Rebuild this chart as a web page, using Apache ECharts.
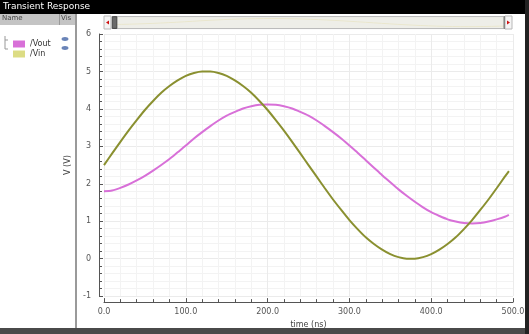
<!DOCTYPE html>
<html><head><meta charset="utf-8">
<script src="https://cdn.jsdelivr.net/npm/echarts@6/dist/echarts.min.js"></script>
<style>html,body{margin:0;padding:0;background:#fff}#c{width:529px;height:334px}</style>
</head><body><div id="c"></div>
<script>
var timeNs = [0,10,20,30,40,50,60,70,80,90,100,110,120,130,140,150,160,170,180,190,200,210,220,230,240,250,260,270,280,290,300,310,320,330,340,350,360,370,380,390,400,410,420,430,440,450,460,470,480,490,495];
var vout = [1.80,1.82,1.89,1.98,2.09,2.21,2.35,2.50,2.66,2.84,3.02,3.21,3.38,3.54,3.69,3.82,3.92,4.01,4.07,4.11,4.12,4.11,4.07,4.01,3.92,3.82,3.69,3.54,3.38,3.21,3.02,2.83,2.63,2.43,2.23,2.04,1.85,1.68,1.52,1.37,1.24,1.14,1.05,0.99,0.95,0.94,0.95,0.99,1.05,1.12,1.17];
var vin  = [2.50,2.81,3.12,3.42,3.70,3.97,4.21,4.43,4.61,4.76,4.88,4.96,5.00,5.00,4.96,4.88,4.76,4.61,4.43,4.21,3.97,3.70,3.42,3.12,2.81,2.50,2.19,1.88,1.58,1.30,1.03,0.79,0.57,0.39,0.24,0.12,0.04,0.00,0.00,0.04,0.12,0.24,0.39,0.57,0.79,1.03,1.30,1.58,1.88,2.19,2.34];
var seriesNames = ['/Vout','/Vin'];
var xTicks = [0,100,200,300,400,500];
var yTicks = [-1,0,1,2,3,4,5,6];

function pairs(v){ return timeNs.map(function(t,i){ return [t, v[i]]; }); }
var chart = echarts.init(document.getElementById('c'), null, {renderer:'canvas'});
var lab = {color:'#555', fontSize:8, fontFamily:'DejaVu Sans'};
chart.setOption({
  animation:false,
  backgroundColor:'#fff',
  grid:{left:104, right:16, top:34, bottom:33},
  legend:{
    orient:'vertical', left:8, top:35, itemWidth:12, itemHeight:7, itemGap:2, icon:'rect',
    textStyle:{fontSize:8, color:'#333', fontFamily:'DejaVu Sans'},
    data:[{name:seriesNames[0], itemStyle:{color:'#d870d8'}},{name:seriesNames[1], itemStyle:{color:'#dcdc84'}}],
    selectedMode:false
  },
  dataZoom:[{
    type:'slider', xAxisIndex:0, top:16, height:13, left:111, right:24,
    showDetail:false, brushSelect:false, showDataShadow:true,
    backgroundColor:'#ececec', borderColor:'#b8b8b8', fillerColor:'rgba(240,240,230,0.6)',
    dataBackground:{lineStyle:{color:'#e6b8e6', width:1}, areaStyle:{opacity:0}},
    selectedDataBackground:{lineStyle:{color:'#e0d8a8', width:1}, areaStyle:{opacity:0}},
    handleIcon:'path://M0,0 L4,0 L4,10 L0,10 Z', handleSize:'90%',
    handleStyle:{color:'#6a6a6a', borderColor:'#444'},
    moveHandleSize:0, zoomOnMouseWheel:false
  }],
  xAxis:{
    type:'value', min:0, max:500, interval:100, offset:6,
    name:'time (ns)', nameLocation:'middle', nameGap:18,
    nameTextStyle:{color:'#444', fontSize:8, fontFamily:'DejaVu Sans'},
    axisLine:{show:true, onZero:false, lineStyle:{color:'#555', width:1}},
    axisTick:{inside:true, length:4, lineStyle:{color:'#555'}},
    minorTick:{show:true, splitNumber:5, length:3, lineStyle:{color:'#555'}},
    axisLabel:Object.assign({formatter:function(v){return v.toFixed(1);}, margin:6}, lab),
    splitLine:{show:true, lineStyle:{color:'#ebebeb'}},
    minorSplitLine:{show:true, lineStyle:{color:'#f3f3f3'}}
  },
  yAxis:{
    type:'value', min:-1, max:6, interval:1, offset:5,
    name:'V (V)', nameLocation:'middle', nameGap:14, nameRotate:90,
    nameTextStyle:{color:'#444', fontSize:8, fontFamily:'DejaVu Sans'},
    axisLine:{show:true, onZero:false, lineStyle:{color:'#555', width:1}},
    axisTick:{inside:true, length:4, lineStyle:{color:'#555'}},
    minorTick:{show:true, splitNumber:5, length:3, lineStyle:{color:'#555'}},
    axisLabel:Object.assign({margin:8}, lab),
    splitLine:{show:true, lineStyle:{color:'#ebebeb'}},
    minorSplitLine:{show:true, lineStyle:{color:'#f3f3f3'}}
  },
  series:[
    {name:seriesNames[0], type:'line', data:pairs(vout), smooth:0.25, showSymbol:false,
     lineStyle:{color:'#d870d8', width:2}, itemStyle:{color:'#d870d8'}},
    {name:seriesNames[1], type:'line', data:pairs(vin), smooth:0.25, showSymbol:false,
     lineStyle:{color:'#8a9030', width:2}, itemStyle:{color:'#dcdc84'}}
  ],
  graphic:[
    {type:'rect', shape:{x:0,y:0,width:529,height:14}, style:{fill:'#000'}, z:100},
    {type:'text', x:3, y:2, style:{text:'Transient Response', fill:'#fff', fontSize:9, fontFamily:'DejaVu Sans'}, z:101},
    {type:'rect', shape:{x:0,y:14,width:76,height:11}, style:{fill:'#c4c4c4'}, z:100},
    {type:'text', x:2, y:15, style:{text:'Name', fill:'#444', fontSize:7, fontFamily:'DejaVu Sans'}, z:101},
    {type:'rect', shape:{x:59,y:14,width:1,height:11}, style:{fill:'#999'}, z:101},
    {type:'text', x:61, y:15, style:{text:'Vis', fill:'#444', fontSize:7, fontFamily:'DejaVu Sans'}, z:101},
    {type:'rect', shape:{x:75,y:14,width:2,height:316}, style:{fill:'#9a9a9a'}, z:100},
    {type:'rect', shape:{x:0,y:328,width:529,height:6}, style:{fill:'#4a4a4a'}, z:100},
    {type:'rect', shape:{x:525,y:0,width:4,height:334}, style:{fill:'#222'}, z:100},
    {type:'polyline', shape:{points:[[5,36],[5,49],[8,49]]}, style:{stroke:'#999', lineWidth:1, fill:null}, z:100},
    {type:'polyline', shape:{points:[[5,40],[8,40]]}, style:{stroke:'#999', lineWidth:1, fill:null}, z:100},
    {type:'ellipse', shape:{cx:65,cy:39,rx:3.5,ry:2}, style:{fill:'#6a84b8'}, z:100},
    {type:'ellipse', shape:{cx:65,cy:48,rx:3.5,ry:2}, style:{fill:'#6a84b8'}, z:100},
    {type:'rect', shape:{x:104,y:16,width:7,height:13}, style:{fill:'#f4f4f4', stroke:'#b8b8b8'}, z:100},
    {type:'polygon', shape:{points:[[106,22.5],[109,20.5],[109,24.5]]}, style:{fill:'#d01010'}, z:101},
    {type:'rect', shape:{x:505,y:16,width:7,height:13}, style:{fill:'#f4f4f4', stroke:'#b8b8b8'}, z:100},
    {type:'polygon', shape:{points:[[510,22.5],[507,20.5],[507,24.5]]}, style:{fill:'#d01010'}, z:101}
  ]
});
</script></body></html>
